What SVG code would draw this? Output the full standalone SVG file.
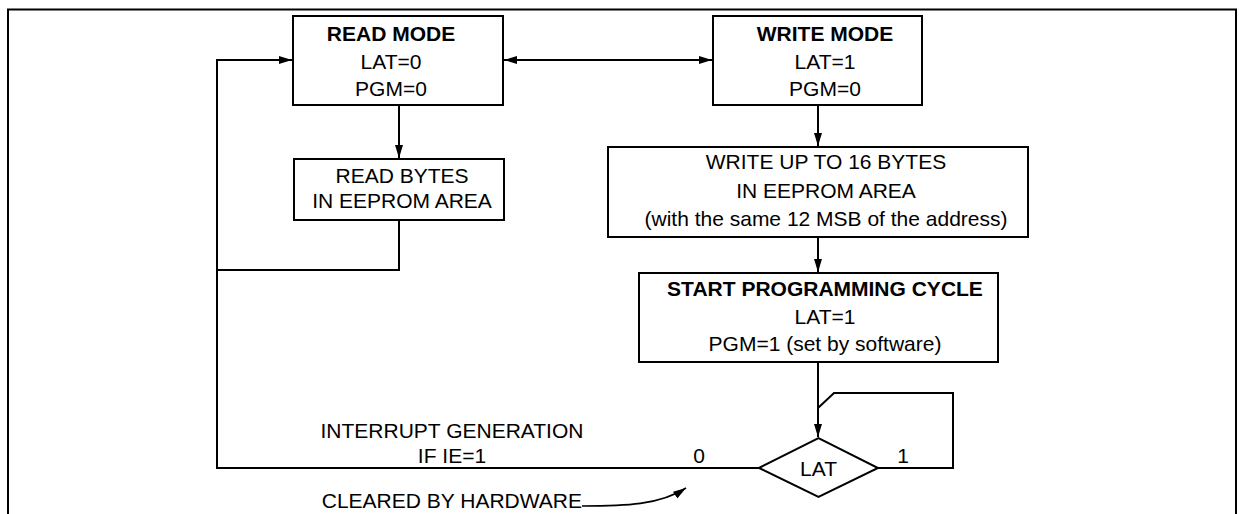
<svg xmlns="http://www.w3.org/2000/svg" width="1239" height="514" viewBox="0 0 1239 514">
<defs>
<style>
.box{fill:#fff;stroke:#000;stroke-width:2}
.ln{fill:none;stroke:#000;stroke-width:2}
.thin{fill:none;stroke:#000;stroke-width:1.6}
text{font-family:"Liberation Sans",Arial,sans-serif;font-size:21px;fill:#000;text-anchor:middle}
.b{font-weight:bold}
</style>
<marker id="ah" markerUnits="userSpaceOnUse" markerWidth="14" markerHeight="9" refX="13" refY="4" orient="auto-start-reverse" viewBox="0 0 14 9">
<path d="M0,0 L13,4 L0,8 z" fill="#000"/>
</marker>
</defs>
<rect width="1239" height="514" fill="#fff"/>
<path class="ln" d="M8,514 V9.5 H1236 V514"/>
<g id="connectors">
<path class="ln" d="M759,468 H217 V60 H292" marker-end="url(#ah)"/>
<path class="ln" d="M504,60 H712" marker-start="url(#ah)" marker-end="url(#ah)"/>
<path class="ln" d="M399,106 V158" marker-end="url(#ah)"/>
<path class="ln" d="M399,220 V270 H217"/>
<path class="ln" d="M818,105 V146" marker-end="url(#ah)"/>
<path class="ln" d="M818,237 V272" marker-end="url(#ah)"/>
<path class="ln" d="M818,362 V437" marker-end="url(#ah)"/>
<path class="ln" d="M878,468 H953 V393 H834 L818,408"/>
<path class="thin" d="M582,506 C625,506 660,505 686,488" marker-end="url(#ah)"/>
</g>
<g id="read-mode">
<rect class="box" x="293" y="16" width="210" height="89"/>
<text class="b" x="391" y="41">READ MODE</text>
<text x="391" y="69">LAT=0</text>
<text x="391" y="96">PGM=0</text>
</g>
<g id="write-mode">
<rect class="box" x="713" y="16" width="209" height="89"/>
<text class="b" x="825" y="41">WRITE MODE</text>
<text x="825" y="69">LAT=1</text>
<text x="825" y="96">PGM=0</text>
</g>
<g id="read-bytes">
<rect class="box" x="294" y="159" width="210" height="61"/>
<text x="402" y="183">READ BYTES</text>
<text x="402" y="208">IN EEPROM AREA</text>
</g>
<g id="write-bytes">
<rect class="box" x="608" y="147" width="420" height="90"/>
<text x="826" y="169">WRITE UP TO 16 BYTES</text>
<text x="826" y="198">IN EEPROM AREA</text>
<text x="826" y="226">(with the same 12 MSB of the address)</text>
</g>
<g id="start-programming">
<rect class="box" x="639" y="273" width="359" height="89"/>
<text class="b" x="825" y="296">START PROGRAMMING CYCLE</text>
<text x="825" y="324">LAT=1</text>
<text x="825" y="351">PGM=1 (set by software)</text>
</g>
<g id="lat-decision">
<path class="box" d="M759,468 L818.5,438 L878,468 L818.5,497 Z"/>
<text x="818.5" y="476">LAT</text>
<text x="699" y="463">0</text>
<text x="903" y="463">1</text>
</g>
<g id="labels">
<text x="452" y="438">INTERRUPT GENERATION</text>
<text x="452" y="463">IF IE=1</text>
<text x="582" y="508" style="text-anchor:end">CLEARED BY HARDWARE</text>
</g>
</svg>
